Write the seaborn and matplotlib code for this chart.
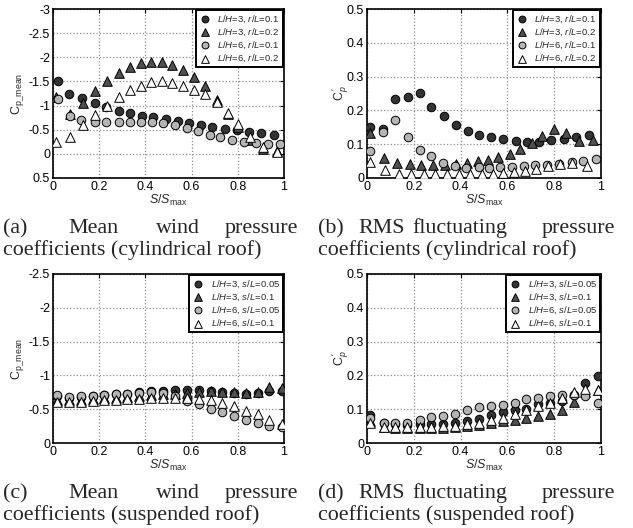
import matplotlib
matplotlib.use("Agg")
from matplotlib import pyplot as plt
import seaborn as sns

# ---- data ----
# (a) mean Cp, cylindrical roof
a_x_dc = [0.02, 0.07, 0.125, 0.18, 0.23, 0.285, 0.335, 0.385, 0.435, 0.49, 0.54, 0.59, 0.64, 0.69, 0.745, 0.795, 0.85, 0.90, 0.955]
a_lh3_r01 = [-1.51, -1.23, -1.16, -1.06, -0.98, -0.89, -0.84, -0.79, -0.76, -0.72, -0.69, -0.63, -0.59, -0.55, -0.52, -0.49, -0.45, -0.44, -0.40]
a_x_tri = [0.012, 0.072, 0.13, 0.18, 0.234, 0.285, 0.332, 0.379, 0.426, 0.474, 0.517, 0.564, 0.611, 0.66, 0.708, 0.756, 0.80, 0.853, 0.91, 0.968]
a_lh3_r02 = [-1.17, -0.82, -1.06, -1.31, -1.51, -1.67, -1.79, -1.88, -1.91, -1.90, -1.85, -1.74, -1.59, -1.41, -1.12, -0.82, -0.55, -0.28, -0.10, -0.06]
a_x_gc = [0.022, 0.072, 0.123, 0.18, 0.231, 0.285, 0.332, 0.379, 0.43, 0.477, 0.527, 0.578, 0.629, 0.68, 0.725, 0.776, 0.827, 0.879, 0.929, 0.983]
a_lh6_r01 = [-1.14, -0.78, -0.71, -0.66, -0.66, -0.66, -0.67, -0.67, -0.66, -0.64, -0.60, -0.54, -0.48, -0.39, -0.34, -0.28, -0.25, -0.23, -0.21, -0.20]
a_lh6_r02 = [-0.25, -0.35, -0.59, -0.80, -0.99, -1.18, -1.32, -1.41, -1.48, -1.50, -1.46, -1.41, -1.32, -1.23, -1.08, -0.84, -0.61, -0.35, -0.14, -0.04]

# (b) rms Cp', cylindrical roof
b_x_dc = [0.011, 0.068, 0.121, 0.175, 0.225, 0.275, 0.328, 0.38, 0.432, 0.478, 0.531, 0.582, 0.635, 0.682, 0.735, 0.787, 0.842, 0.892, 0.949]
b_lh3_r01 = [0.150, 0.146, 0.234, 0.241, 0.252, 0.210, 0.182, 0.156, 0.138, 0.128, 0.122, 0.116, 0.110, 0.107, 0.107, 0.113, 0.116, 0.122, 0.128]
b_x_dt = [0.011, 0.071, 0.128, 0.182, 0.232, 0.281, 0.332, 0.38, 0.427, 0.474, 0.516, 0.56, 0.61, 0.652, 0.705, 0.748, 0.798, 0.852, 0.905, 0.964]
b_lh3_r02 = [0.133, 0.060, 0.044, 0.041, 0.039, 0.039, 0.039, 0.042, 0.044, 0.050, 0.054, 0.061, 0.072, 0.086, 0.104, 0.123, 0.145, 0.133, 0.108, 0.113]
b_x_gc = [0.011, 0.068, 0.121, 0.175, 0.225, 0.275, 0.325, 0.375, 0.424, 0.478, 0.521, 0.568, 0.618, 0.671, 0.716, 0.768, 0.821, 0.875, 0.925, 0.978]
b_lh6_r01 = [0.079, 0.135, 0.173, 0.121, 0.082, 0.064, 0.044, 0.036, 0.030, 0.033, 0.030, 0.033, 0.033, 0.035, 0.037, 0.039, 0.042, 0.047, 0.051, 0.056]
b_x_wt = [0.011, 0.078, 0.135, 0.19, 0.242, 0.292, 0.342, 0.392, 0.442, 0.491, 0.538, 0.581, 0.63, 0.677, 0.724, 0.772, 0.823, 0.876, 0.94]
b_lh6_r02 = [0.047, 0.023, 0.013, 0.013, 0.013, 0.013, 0.013, 0.013, 0.013, 0.013, 0.013, 0.015, 0.017, 0.021, 0.027, 0.035, 0.042, 0.044, 0.036]

# (c) mean Cp, suspended roof
c_x = [0.017, 0.069, 0.12, 0.171, 0.221, 0.272, 0.322, 0.373, 0.426, 0.477, 0.527, 0.581, 0.632, 0.682, 0.733, 0.783, 0.835, 0.886, 0.936, 0.99]
c_lh3_s005 = [-0.69, -0.67, -0.68, -0.70, -0.715, -0.725, -0.73, -0.75, -0.765, -0.775, -0.785, -0.785, -0.78, -0.775, -0.76, -0.74, -0.725, -0.74, -0.775, -0.775]
c_lh3_s01 = [-0.64, -0.63, -0.64, -0.65, -0.66, -0.67, -0.68, -0.70, -0.71, -0.72, -0.73, -0.74, -0.755, -0.765, -0.76, -0.75, -0.74, -0.76, -0.83, -0.81]
c_lh6_s005 = [-0.715, -0.675, -0.69, -0.70, -0.715, -0.725, -0.725, -0.74, -0.75, -0.74, -0.70, -0.62, -0.57, -0.51, -0.46, -0.40, -0.345, -0.30, -0.25, -0.23]
c_lh6_s01 = [-0.60, -0.60, -0.61, -0.62, -0.63, -0.635, -0.645, -0.655, -0.665, -0.67, -0.67, -0.665, -0.65, -0.63, -0.59, -0.55, -0.48, -0.43, -0.345, -0.28]

# (d) rms Cp', suspended roof
d_x = [0.011, 0.071, 0.121, 0.171, 0.225, 0.275, 0.325, 0.375, 0.427, 0.477, 0.53, 0.58, 0.631, 0.681, 0.731, 0.783, 0.833, 0.886, 0.933, 0.987]
d_lh3_s005 = [0.084, 0.059, 0.056, 0.054, 0.057, 0.057, 0.057, 0.059, 0.064, 0.071, 0.082, 0.092, 0.097, 0.100, 0.115, 0.117, 0.123, 0.142, 0.178, 0.198]
d_lh3_s01 = [0.066, 0.047, 0.045, 0.045, 0.045, 0.045, 0.045, 0.046, 0.050, 0.053, 0.060, 0.064, 0.069, 0.074, 0.081, 0.087, 0.098, 0.121, 0.150, 0.156]
d_lh6_s005 = [0.073, 0.060, 0.058, 0.060, 0.068, 0.076, 0.080, 0.086, 0.098, 0.107, 0.110, 0.112, 0.119, 0.130, 0.133, 0.140, 0.141, 0.143, 0.140, 0.118]
d_lh6_s01 = [0.058, 0.048, 0.046, 0.046, 0.047, 0.048, 0.049, 0.050, 0.055, 0.060, 0.068, 0.075, 0.085, 0.098, 0.110, 0.119, 0.132, 0.152, 0.161, 0.157]

labels_r = [r"$L/H$=3, $r/L$=0.1", r"$L/H$=3, $r/L$=0.2", r"$L/H$=6, $r/L$=0.1", r"$L/H$=6, $r/L$=0.2"]
labels_s = [r"$L/H$=3, $s/L$=0.05", r"$L/H$=3, $s/L$=0.1", r"$L/H$=6, $s/L$=0.05", r"$L/H$=6, $s/L$=0.1"]

sns.set_style("white")
plt.rcParams["font.family"] = ["Liberation Sans", "DejaVu Sans"]
plt.rcParams["mathtext.fontset"] = "custom"
plt.rcParams["mathtext.rm"] = "Liberation Sans"
plt.rcParams["mathtext.it"] = "Liberation Sans:italic"
plt.rcParams["mathtext.bf"] = "Liberation Sans:bold"
plt.rcParams["axes.unicode_minus"] = False

# marker styles: dark circle, dark triangle, grey circle, white triangle
styles = [("o", "#333333", 38), ("^", "#505050", 48), ("o", "#b4b4b4", 38), ("^", "#ffffff", 48)]

W, H = 633.0, 528.0
fig = plt.figure(figsize=(6.33, 5.28), dpi=100)


def make_ax(left, top, w, h):
    return fig.add_axes([left / W, 1 - (top + h) / H, w / W, h / H])


def draw(ax, series, labels, ylim, yticks, ylabel, lab_x):
    handles = []
    for (xs, ys), (mk, fc, s), lab in zip(series, styles, labels):
        sns.scatterplot(x=xs, y=ys, marker=mk, color=fc, s=s, edgecolor="black",
                        linewidth=0.7, label=lab, ax=ax, legend=False, zorder=3)
        handles.append(ax.collections[-1])
    ax.set_xlim(0, 1)
    ax.set_yticks(yticks)
    ax.set_xticks([0, 0.2, 0.4, 0.6, 0.8, 1])
    ax.set_xticklabels(["0", "0.2", "0.4", "0.6", "0.8", "1"])
    ax.set_yticklabels([("%g" % t) for t in yticks])
    ax.set_ylim(*ylim)
    ax.grid(True, color="#8c8c8c", linestyle=":", linewidth=0.9)
    ax.set_axisbelow(True)
    ax.tick_params(direction="in", top=True, right=True, length=3, width=0.8,
                   labelsize=9, pad=2, colors="black")
    for sp in ax.spines.values():
        sp.set_linewidth(1.2)
        sp.set_color("black")
    ax.set_xlabel(r"$S/S_{\rm max}$", fontsize=9, labelpad=0)
    ax.set_ylabel(ylabel, fontsize=9)
    ax.yaxis.set_label_coords(lab_x, 0.5)
    leg = ax.legend(handles=handles, labels=labels, loc="upper right", fontsize=6.8,
                    frameon=True, fancybox=False, borderpad=0.3, labelspacing=0.2,
                    handletextpad=0.7, handlelength=1.3, borderaxespad=0.15,
                    markerscale=0.8)
    leg.get_frame().set_edgecolor("black")
    leg.get_frame().set_linewidth(1.4)
    leg.get_frame().set_alpha(1)


ax_a = make_ax(53, 9, 231, 169)
draw(ax_a, [(a_x_dc, a_lh3_r01), (a_x_tri, a_lh3_r02), (a_x_gc, a_lh6_r01), (a_x_tri, a_lh6_r02)],
     labels_r, (0.5, -3), [-3, -2.5, -2, -1.5, -1, -0.5, 0, 0.5], r"C$_{\rm p\_mean}$", -0.118)

ax_b = make_ax(367, 9, 234, 169)
draw(ax_b, [(b_x_dc, b_lh3_r01), (b_x_dt, b_lh3_r02), (b_x_gc, b_lh6_r01), (b_x_wt, b_lh6_r02)],
     labels_r, (0, 0.5), [0, 0.1, 0.2, 0.3, 0.4, 0.5], r"C$_{p}^{\,\prime}$", -0.068)

ax_c = make_ax(53, 274, 231, 169)
draw(ax_c, [(c_x, c_lh3_s005), (c_x, c_lh3_s01), (c_x, c_lh6_s005), (c_x, c_lh6_s01)],
     labels_s, (0, -2.5), [-2.5, -2, -1.5, -1, -0.5, 0], r"C$_{\rm p\_mean}$", -0.118)

ax_d = make_ax(367, 274, 234, 169)
draw(ax_d, [(d_x, d_lh3_s005), (d_x, d_lh3_s01), (d_x, d_lh6_s005), (d_x, d_lh6_s01)],
     labels_s, (0, 0.5), [0, 0.1, 0.2, 0.3, 0.4, 0.5], r"C$_{p}^{\,\prime}$", -0.068)

# captions: first line justified word by word, second line left aligned
serif = ["Liberation Serif", "DejaVu Serif"]
cap_fs = 15.8


def put(x, y, txt, ha="left"):
    fig.text(x / W, 1 - y / H, txt, ha=ha, va="baseline", fontsize=cap_fs, family=serif)


def caption(xs, x_end, y1, y2, words, line2):
    for x, wd in zip(xs, words[:-1]):
        put(x, y1, wd)
    put(x_end, y1, words[-1], ha="right")
    put(xs[0], y2, line2)


caption([3, 68, 156], 298, 233, 255, ["(a)", "Mean", "wind", "pressure"], "coefficients (cylindrical roof)")
caption([318, 358, 412], 615, 233, 255, ["(b)", "RMS", "fluctuating", "pressure"], "coefficients (cylindrical roof)")
caption([3, 68, 156], 298, 498, 520, ["(c)", "Mean", "wind", "pressure"], "coefficients (suspended roof)")
caption([318, 358, 412], 615, 498, 520, ["(d)", "RMS", "fluctuating", "pressure"], "coefficients (suspended roof)")

fig.savefig("out.png", dpi=100)
plt.close(fig)
